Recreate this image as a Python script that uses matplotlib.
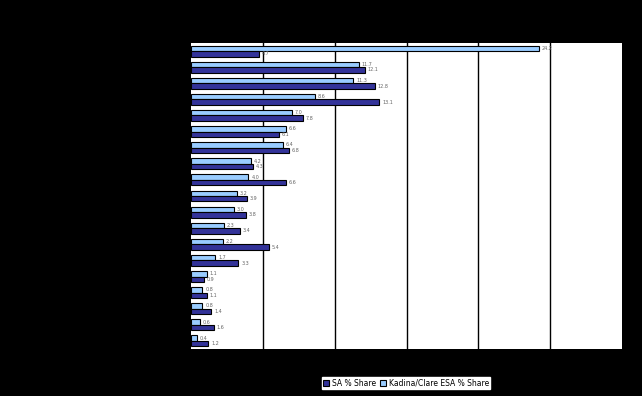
import numpy as np
import matplotlib.pyplot as plt

# values, top row first
kadina_share = [24.2, 11.7, 11.3, 8.6, 7.0, 6.6, 6.4, 4.2, 4.0, 3.2,
                3.0, 2.3, 2.2, 1.7, 1.1, 0.8, 0.8, 0.6, 0.4]
sa_share = [4.7, 12.1, 12.8, 13.1, 7.8, 6.1, 6.8, 4.3, 6.6, 3.9,
            3.8, 3.4, 5.4, 3.3, 0.9, 1.1, 1.4, 1.6, 1.2]

light = '#99CCFF'
dark = '#333399'

fig = plt.figure(figsize=(6.42, 3.96), dpi=100, facecolor='black')
ax = fig.add_axes([191/642, 1 - 349/396, 431/642, 306/396])
ax.set_facecolor('white')

n = len(sa_share)
y = np.arange(n)
h = 0.34
b1 = ax.barh(y - h/2, kadina_share, height=h, color=light, edgecolor='black',
             linewidth=0.8, label='Kadina/Clare ESA % Share', zorder=3)
b2 = ax.barh(y + h/2, sa_share, height=h, color=dark, edgecolor='black',
             linewidth=0.8, label='SA % Share', zorder=3)

for bars, vals in ((b1, kadina_share), (b2, sa_share)):
    for rect, v in zip(bars, vals):
        ax.text(v + 0.2, rect.get_y() + rect.get_height()/2, f'{v:.1f}',
                fontsize=3.5, color='#666666', va='center', ha='left', zorder=4)

ax.set_xlim(0, 30)
ax.set_ylim(n - 0.5, -0.5)
ax.set_xticks([5, 10, 15, 20, 25])
ax.xaxis.grid(True, color='black', linewidth=1, zorder=1)
ax.tick_params(left=False, bottom=False, labelleft=False, labelbottom=False)
for s in ax.spines.values():
    s.set_visible(False)

leg = fig.legend(handles=[b2, b1], labels=['SA % Share', 'Kadina/Clare ESA % Share'],
                 loc='center', bbox_to_anchor=(406/642, 1 - 383/396), ncol=2,
                 fontsize=5.5, frameon=True, fancybox=False, edgecolor='white',
                 facecolor='white', framealpha=1, handlelength=0.8, handleheight=0.8,
                 handletextpad=0.3, columnspacing=0.6, borderpad=0.2, borderaxespad=0)

fig.savefig('out.png', dpi=100, facecolor='black')
